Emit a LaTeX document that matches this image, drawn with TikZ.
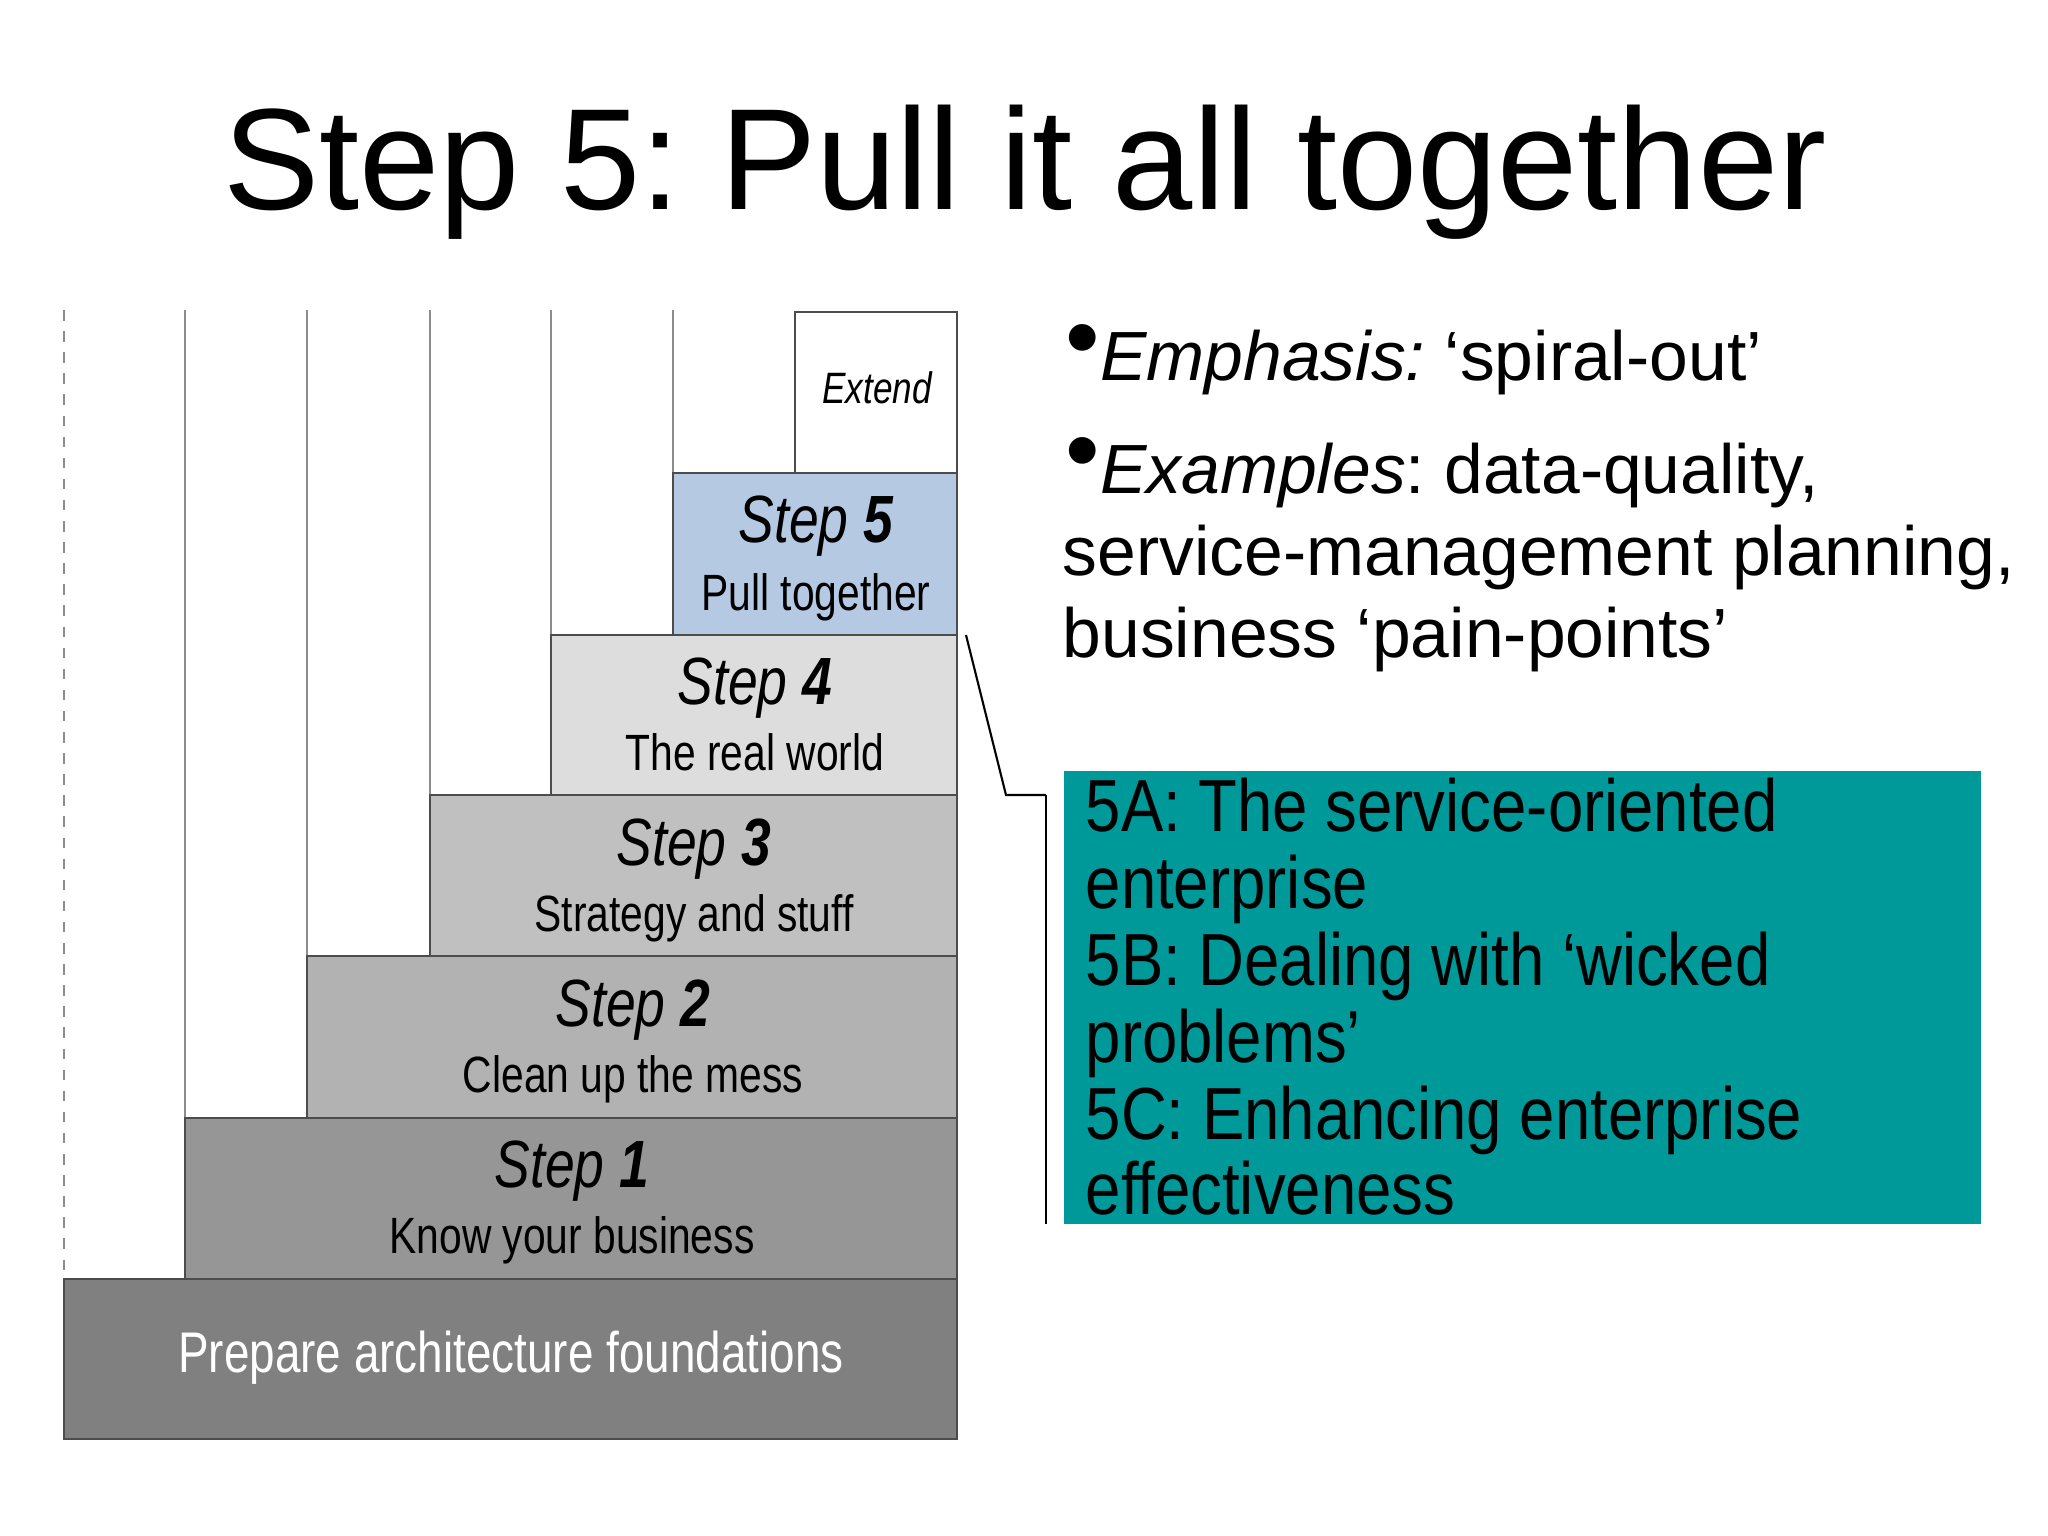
\documentclass[tikz,border=0pt]{standalone}
\usepackage{fontspec}
\setmainfont{Liberation Sans}
\newfontfamily\narrow[FakeStretch=0.8]{Liberation Sans}
\newfontfamily\tnarrow[FakeStretch=0.86]{Liberation Sans}
\frenchspacing
\begin{document}
\begin{tikzpicture}[x=0.01cm,y=-0.01cm,
  stepbox/.style={draw=black!70,line width=0.5pt,inner sep=0pt},
  vline/.style={draw=black!45,line width=0.5pt},
  steptitle/.style={font=\narrow\fontsize{19}{22}\selectfont\itshape,anchor=base},
  stepsub/.style={font=\narrow\fontsize{14.5}{18}\selectfont,anchor=base},
  bullet/.style={font=\fontsize{19.8}{25}\selectfont,anchor=base west,inner sep=0pt},
  teal/.style={font=\tnarrow\fontsize{21}{22}\selectfont,anchor=base west,inner sep=0pt}]
\useasboundingbox (0,0) rectangle (2048,1536);
\node[font=\fontsize{41}{46}\selectfont,anchor=base] (title) at (1025,209) {Step 5: Pull it all together};
% vertical guide lines
\draw[vline,dashed] (64,310) -- (64,1279);
\draw[vline] (185,310) -- (185,1118);
\draw[vline] (307,310) -- (307,956);
\draw[vline] (430,310) -- (430,795);
\draw[vline] (551,310) -- (551,635);
\draw[vline] (673,310) -- (673,473);
% boxes
\draw[stepbox,fill=white] (795,312) rectangle (957,473);
\draw[stepbox,fill={rgb,255:red,182;green,201;blue,227}] (673,473) rectangle (957,635);
\draw[stepbox,fill={rgb,255:red,221;green,221;blue,221}] (551,635) rectangle (957,795);
\draw[stepbox,fill={rgb,255:red,192;green,192;blue,192}] (430,795) rectangle (957,956);
\draw[stepbox,fill={rgb,255:red,178;green,178;blue,178}] (307,956) rectangle (957,1118);
\draw[stepbox,fill={rgb,255:red,150;green,150;blue,150}] (185,1118) rectangle (957,1279);
\draw[stepbox,fill={rgb,255:red,128;green,128;blue,128}] (64,1279) rectangle (957,1439);
% labels
\node[font=\narrow\fontsize{12.5}{15}\selectfont\itshape,anchor=base] (ext) at (877,403) {Extend};
\node[steptitle] (s5) at (816,542) {Step \textbf{5}};
\node[stepsub] (s5b) at (816,610) {Pull together};
\node[steptitle] (s4) at (755,704) {Step \textbf{4}};
\node[stepsub] (s4b) at (755,770) {The real world};
\node[steptitle] (s3) at (694,865) {Step \textbf{3}};
\node[stepsub] (s3b) at (694,931) {Strategy and stuff};
\node[steptitle] (s2) at (633,1026) {Step \textbf{2}};
\node[stepsub] (s2b) at (633,1092) {Clean up the mess};
\node[steptitle] (s1) at (572,1187) {Step \textbf{1}};
\node[stepsub] (s1b) at (572,1253) {Know your business};
\node[stepsub,text=white,font=\narrow\fontsize{16.3}{20}\selectfont] (f) at (511,1372) {Prepare architecture foundations};
% bullets
\node[bullet] (b1) at (1065,380) {\raisebox{0.25ex}{\fontsize{28}{28}\selectfont\textbullet}\textit{Emphasis:} ‘spiral-out’};
\node[bullet] (b2) at (1065,493) {\raisebox{0.25ex}{\fontsize{28}{28}\selectfont\textbullet}\textit{Examples}: data-quality,};
\node[bullet] (b3) at (1062,575) {service-management planning,};
\node[bullet] (b4) at (1062,657) {business ‘pain-points’};
% teal box
\fill[fill={rgb,255:red,0;green,153;blue,153}] (1064,771) rectangle (1981,1224);
\coordinate (c1) at (966,635);
\coordinate (c2) at (1006,795);
\coordinate (c3) at (1046,795);
\draw[line width=0.6pt] (c1) -- (c2) -- (c3);
\draw[line width=0.6pt] (1046,795) -- (1046,1224);
\node[teal] (t1) at (1085,831) {5A: The service-oriented};
\node[teal] (t2) at (1085,908) {enterprise};
\node[teal] (t3) at (1085,985) {5B: Dealing with ‘wicked};
\node[teal] (t4) at (1085,1062) {problems’};
\node[teal] (t5) at (1085,1139) {5C: Enhancing enterprise};
\node[teal] (t6) at (1085,1214) {effectiveness};
\end{tikzpicture}
\end{document}
